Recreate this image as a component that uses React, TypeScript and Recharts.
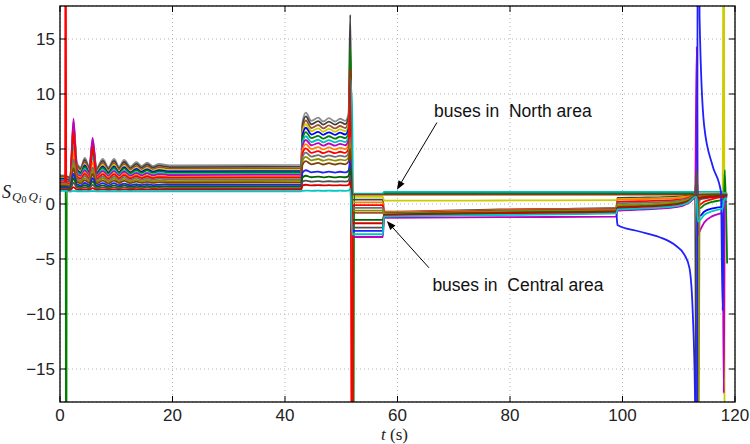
import { LineChart, Line, XAxis, YAxis, CartesianGrid } from 'recharts';

// sample times (s); segments: oscillation, fault, split, recovery, collapse
const T = [
  0, 0.9, 1.0, 1.1, 1.2, 1.8, 2.4, 3.0, 3.7, 4.4, 5.2, 5.8, 6.5, 7.6, 8.6, 9.6, 10.5, 11.4, 12.5, 13.6, 14.5, 15.5, 16.5, 17.6, 19.5, 42.9,
  43.1, 43.7, 44.7, 45.9, 46.8, 47.8, 48.9, 49.8, 50.7, 51.3, 51.6, 51.95,
  52.1, 52.3, 57.4,
  57.6, 78, 98.9,
  99.1, 103, 106.5, 109.5, 111, 111.9, 112.5, 112.9,
  113.2, 113.4, 113.7, 114.5, 116, 117.5, 117.8, 118.0, 118.2, 118.6,
];

const bus01 = [
  2.6, 2.6, 2.6, 2.6, 2.55, 2.45, 7.5, 3.75, 3.35, 4.2, 3.4, 5.9, 3.3, 4.1, 3.35, 4.1, 3.4, 4.0, 3.4, 3.8, 3.45, 3.75, 3.45, 3.65, 3.5, 3.55,
  7.4, 8.3, 7.55, 7.85, 7.5, 7.8, 7.5, 7.75, 7.55, 8.2, 10.5, 0.88,
  0.88, 0.88, 0.88,
  0.9, 0.9, 0.9,
  0.9, 0.9, 0.9, 0.9, 0.9, 0.9, 0.9, 0.9,
  0.9, 0.9, 0.9, 0.9, 0.92, 0.95, 0.95, 0.9, 0.9, 0.9,
];
const bus02 = [
  2.52, 2.52, 2.52, 2.52, 2.48, 2.37, 7.11, 3.59, 3.21, 4.01, 3.26, 5.61, 3.16, 3.92, 3.21, 3.92, 3.26, 3.82, 3.26, 3.64, 3.31, 3.59, 3.31, 3.49, 3.35, 3.4,
  7.11, 7.97, 7.25, 7.54, 7.21, 7.49, 7.21, 7.45, 7.26, 7.87, 17.2, 0.4,
  0.4, 0.4, 0.4,
  -0.7, -0.5, -0.35,
  0.55, 0.58, 0.61, 0.66, 0.72, 0.8, 0.89, 0.95,
  -40, 0.8, 0.75, 0.8, 0.85, 0.9, 0.9, 0.9, 0.9, 0.9,
];
const bus03 = [
  2.43, 2.43, 2.43, 2.43, 2.39, 2.29, 6.71, 3.43, 3.08, 3.82, 3.12, 5.31, 3.03, 3.73, 3.08, 3.73, 3.12, 3.64, 3.12, 3.47, 3.16, 3.43, 3.16, 3.34, 3.21, 3.25,
  6.78, 7.59, 6.91, 7.18, 6.87, 7.14, 6.87, 7.09, 6.91, 7.5, 9.5, -0.8,
  -0.8, -0.8, -0.8,
  -0.95, -0.75, -0.6,
  -0.2, -0.13, -0.05, 0.07, 0.22, 0.42, 0.65, 0.8,
  2.5, 0.3, 0.4, 0.55, 0.7, 0.8, 0.8, 0.8, 0.8, 0.8,
];
const bus04 = [
  2.33, 2.33, 2.33, 2.33, 2.3, 2.21, 7.3, 3.26, 2.94, 3.63, 2.98, 5.0, 2.9, 3.55, 2.94, 3.55, 2.98, 3.46, 2.98, 3.3, 3.02, 3.26, 3.02, 3.18, 3.06, 3.1,
  6.49, 7.25, 6.62, 6.87, 6.57, 6.83, 6.57, 6.79, 6.62, 7.17, 9.0, 0.65,
  0.65, 0.65, 0.65,
  0.3, 0.32, 0.35,
  0.45, 0.48, 0.52, 0.57, 0.64, 0.73, 0.83, 0.9,
  0.9, 0.7, 0.75, 0.8, 0.85, 0.9, 0.9, 40, -40, -40,
];
const bus05 = [
  2.28, 2.28, 2.28, 2.28, 2.24, 2.15, 6.04, 3.15, 2.85, 3.5, 2.88, 4.81, 2.81, 3.42, 2.85, 3.42, 2.88, 3.35, 2.88, 3.19, 2.92, 3.15, 2.92, 3.08, 2.96, 3.0,
  6.2, 6.93, 6.32, 6.56, 6.28, 6.52, 6.28, 6.48, 6.32, 6.85, 9.8, 0.92,
  0.92, 0.92, 0.92,
  1.0, 1.0, 1.0,
  1.0, 1.0, 1.0, 1.0, 1.0, 1.0, 1.0, 1.0,
  1.0, -0.6, -1.1, -0.7, -0.4, -0.25, -0.2, 0.5, 0.6, 0.6,
];
const bus06 = [
  2.22, 2.22, 2.22, -40, 2.18, 2.1, 5.78, 3.05, 2.75, 3.37, 2.79, 4.62, 2.72, 3.3, 2.75, 3.3, 2.79, 3.23, 2.79, 3.08, 2.83, 3.05, 2.83, 2.97, 2.86, 2.9,
  5.86, 6.54, 5.98, 6.2, 5.94, 6.16, 5.94, 6.13, 5.98, 6.46, 14.3, 0.9,
  -40, 0.9, 0.9,
  0.95, 0.95, 0.95,
  0.95, 0.95, 0.95, 0.95, 0.95, 0.95, 0.95, 0.95,
  0.95, -0.2, -0.4, -0.1, 0.2, 0.35, 0.4, 0.5, 3.1, -5.4,
];
const bus07 = [
  2.14, 2.14, 2.14, 2.14, 2.1, 2.01, 5.4, 2.88, 2.62, 3.19, 2.65, 4.32, 2.58, 3.12, 2.62, 3.12, 2.65, 3.05, 2.65, 2.92, 2.68, 2.88, 2.68, 2.82, 2.72, 2.75,
  5.53, 6.16, 5.63, 5.84, 5.6, 5.81, 5.6, 5.77, 5.63, 6.09, 11.5, 8.0,
  0.95, 0.95, 0.95,
  1.1, 1.1, 1.1,
  1.1, 1.1, 1.1, 1.1, 1.1, 1.1, 1.1, 1.1,
  1.1, 1.1, 1.1, 1.1, 1.1, 1.1, 1.1, 1.0, 1.0, 1.0,
];
const bus08 = [
  2.08, 2.08, 2.08, 2.08, 2.04, 1.96, 7.75, 2.78, 2.53, 3.06, 2.56, 6.0, 2.49, 2.99, 2.53, 2.99, 2.56, 2.93, 2.56, 2.81, 2.59, 2.78, 2.59, 2.71, 2.62, 2.65,
  5.24, 5.82, 5.34, 5.53, 5.3, 5.5, 5.3, 5.47, 5.34, 5.76, 7.5, -3.0,
  -3.0, -3.0, -3.0,
  -1.25, -1.2, -1.15,
  -0.6, -0.52, -0.42, -0.28, -0.1, 0.14, 0.42, 0.6,
  14.3, -2.8, -2.5, -1.7, -1.1, -0.85, -0.8, -17.2, 0.2, 0.2,
];
const bus09 = [
  1.98, 1.98, 1.98, 1.98, 1.95, 1.88, 4.71, 2.61, 2.39, 2.86, 2.42, 3.82, 2.36, 2.81, 2.39, 2.81, 2.42, 2.75, 2.42, 2.64, 2.44, 2.61, 2.44, 2.56, 2.47, 2.5,
  4.9, 5.44, 4.99, 5.17, 4.96, 5.14, 4.96, 5.11, 4.99, 5.38, 7.0, 0.15,
  0.15, 0.15, 0.15,
  -0.75, -0.55, -0.4,
  0.4, 0.44, 0.48, 0.54, 0.61, 0.71, 0.83, 0.9,
  0.9, 0.8, 0.85, 0.88, 0.9, 0.92, 0.92, 0.9, 0.9, 0.9,
];
const bus10 = [
  1.93, 1.93, 40, 1.93, 1.9, 1.83, 6.6, 2.5, 2.3, 2.74, 2.32, 5.2, 2.27, 2.69, 2.3, 2.69, 2.32, 2.63, 2.32, 2.53, 2.35, 2.5, 2.35, 2.45, 2.37, 2.4,
  4.57, 5.05, 4.65, 4.81, 4.62, 4.78, 4.62, 4.75, 4.65, 5.0, 12.2, -40,
  -0.1, -0.1, -0.1,
  -0.8, -0.6, -0.45,
  0.2, 0.25, 0.3, 0.38, 0.47, 0.6, 0.75, 0.85,
  2.8, -0.2, -0.1, 0.2, 0.45, 0.6, 0.6, 0.7, 0.8, 0.8,
];
const bus11 = [
  1.84, 1.84, 1.84, 1.84, 1.81, 1.74, 4.07, 2.34, 2.16, 2.55, 2.18, 3.33, 2.14, 2.5, 2.16, 2.5, 2.18, 2.46, 2.18, 2.37, 2.2, 2.34, 2.2, 2.3, 2.23, 2.25,
  4.23, 4.67, 4.3, 4.45, 4.28, 4.42, 4.28, 4.4, 4.3, 4.62, 6.0, -0.35,
  -0.35, -0.35, -0.35,
  -0.85, -0.65, -0.5,
  0.05, 0.11, 0.17, 0.27, 0.39, 0.55, 0.73, 0.85,
  0.85, 0.8, 0.82, 0.85, 0.88, 0.9, 0.9, 0.85, 0.85, 0.85,
];
const bus12 = [
  1.76, 1.76, 1.76, 1.76, 1.73, 1.66, 3.68, 2.18, 2.02, 2.36, 2.04, 3.04, 2.0, 2.32, 2.02, 2.32, 2.04, 2.28, 2.04, 2.2, 2.06, 2.18, 2.06, 2.14, 2.08, 2.1,
  3.89, 4.28, 3.96, 4.09, 3.94, 4.06, 3.94, 4.04, 3.96, 4.24, 5.5, -0.6,
  -0.6, -0.6, -0.6,
  -0.9, -0.7, -0.55,
  -0.1, -0.04, 0.04, 0.14, 0.28, 0.46, 0.67, 0.8,
  0.8, -40, 0.7, 0.75, 0.8, 0.85, 0.85, 0.85, 0.85, 0.85,
];
const bus13 = [
  1.66, 1.66, 1.66, 1.66, 1.64, 1.59, 3.25, 2.02, 1.88, 2.16, 1.9, 2.73, 1.87, 2.13, 1.88, 2.13, 1.9, 2.1, 1.9, 2.03, 1.92, 2.02, 1.92, 1.98, 1.93, 1.95,
  3.56, 3.9, 3.61, 3.73, 3.59, 3.71, 3.59, 3.69, 3.61, 3.86, 5.0, 0.85,
  0.85, 0.85, 0.85,
  0.85, 0.85, 0.85,
  0.85, 0.85, 0.85, 0.85, 0.85, 0.85, 0.85, 0.85,
  0.85, 0.85, 0.85, 0.85, 0.85, 0.85, 0.85, 0.85, 0.85, 0.85,
];
const bus14 = [
  1.55, 1.55, 1.55, 1.55, 1.53, 1.47, 2.74, 1.8, 1.7, 1.91, 1.71, 2.34, 1.69, 1.89, 1.7, 1.89, 1.71, 1.86, 1.71, 1.81, 1.72, 1.8, 1.72, 1.77, 1.74, 1.75,
  2.84, 3.07, 2.87, 2.95, 2.86, 2.94, 2.86, 2.93, 2.87, 3.04, 4.0, -2.45,
  -2.45, -2.45, -2.45,
  -1.1, -0.95, -0.8,
  -1.9, -2.5, -3.0, -3.8, -4.6, -5.8, -10, -18,
  -40, 40, 17, 7.2, 3.5, 1.1, -9.7, 0.5, 0.8, 0.8,
];
const bus15 = [
  1.47, 1.47, 1.47, 1.47, 1.45, 1.39, 2.35, 1.64, 1.56, 1.72, 1.57, 2.05, 1.55, 1.7, 1.56, 1.7, 1.57, 1.69, 1.57, 1.65, 1.58, 1.64, 1.58, 1.62, 1.59, 1.6,
  2.4, 2.57, 2.43, 2.49, 2.42, 2.48, 2.42, 2.47, 2.43, 2.55, 3.3, -1.45,
  -1.45, -1.45, -1.45,
  -1.0, -0.8, -0.65,
  -0.3, -0.23, -0.14, -0.02, 0.14, 0.35, 0.59, 0.75,
  0.75, 0.5, 0.55, 0.65, 0.7, 0.75, 0.75, 0.75, 0.75, 0.75,
];
const bus16 = [
  1.38, 1.38, 1.38, 1.38, 1.36, 1.31, 1.94, 1.48, 1.43, 1.53, 1.43, 1.74, 1.42, 1.52, 1.43, 1.52, 1.43, 1.51, 1.43, 1.48, 1.44, 1.48, 1.44, 1.46, 1.44, 1.45,
  2.02, 2.13, 2.04, 2.08, 2.03, 2.07, 2.03, 2.06, 2.04, 2.12, 2.6, -2.15,
  -2.15, -2.15, -2.15,
  -1.1, -0.9, -0.75,
  -0.45, -0.37, -0.28, -0.14, 0.03, 0.26, 0.53, 0.7,
  3.1, 0.3, 0.4, 0.5, 0.6, 0.7, 0.7, 0.7, 0.7, 0.7,
];
const bus17 = [
  1.28, 1.28, 1.28, 1.28, 1.27, 1.23, 1.54, 1.31, 1.29, 1.34, 1.29, 1.44, 1.29, 1.33, 1.29, 1.33, 1.29, 1.33, 1.29, 1.32, 1.3, 1.31, 1.3, 1.31, 1.3, 1.3,
  1.68, 1.75, 1.69, 1.72, 1.69, 1.71, 1.69, 1.71, 1.69, 1.74, 2.1, -1.75,
  -1.75, -1.75, -1.75,
  -1.05, -0.85, -0.7,
  -0.35, -0.28, -0.19, -0.07, 0.09, 0.3, 0.54, 0.7,
  0.7, 0.5, 0.55, 0.6, 0.65, 0.7, 0.7, 0.7, 0.7, 0.7,
];
const bus18 = [
  1.2, 1.2, 1.2, 1.2, 1.18, 1.12, 1.2, 1.16, 1.15, 1.16, 1.15, 1.18, 1.15, 1.16, 1.15, 1.16, 1.15, 1.16, 1.15, 1.15, 1.15, 1.15, 1.15, 1.15, 1.15, 1.15,
  1.2, 1.22, 1.2, 1.21, 1.2, 1.21, 1.2, 1.21, 1.2, 1.21, 1.4, -2.75,
  -2.75, -2.75, -2.75,
  -1.15, -1.0, -0.85,
  -0.5, -0.42, -0.33, -0.19, -0.02, 0.21, 0.48, 0.65,
  0.65, -1.6, -1.5, -1.0, -0.65, -0.45, -0.4, 0.3, 0.5, 0.5,
];

const SERIES = [
  { key: 'bus01', color: '#8c8c8c', values: bus01 },
  { key: 'bus02', color: '#404040', values: bus02 },
  { key: 'bus03', color: '#a0522d', values: bus03 },
  { key: 'bus04', color: '#cccc00', values: bus04 },
  { key: 'bus05', color: '#0000ff', values: bus05 },
  { key: 'bus06', color: '#008000', values: bus06 },
  { key: 'bus07', color: '#00bfbf', values: bus07 },
  { key: 'bus08', color: '#bf00bf', values: bus08 },
  { key: 'bus09', color: '#ff8000', values: bus09 },
  { key: 'bus10', color: '#ff0000', values: bus10 },
  { key: 'bus11', color: '#707070', values: bus11 },
  { key: 'bus12', color: '#8c8c00', values: bus12 },
  { key: 'bus13', color: '#804000', values: bus13 },
  { key: 'bus14', color: '#2020ff', values: bus14 },
  { key: 'bus15', color: '#006400', values: bus15 },
  { key: 'bus16', color: '#505050', values: bus16 },
  { key: 'bus17', color: '#d40000', values: bus17 },
  { key: 'bus18', color: '#00c8c8', values: bus18 },
];

const X_TICKS = [0, 20, 40, 60, 80, 100, 120];
const Y_TICKS = [-15, -10, -5, 0, 5, 10, 15];
const X_DOMAIN = [0, 120];
const Y_DOMAIN = [-18, 18];

const W = 750;
const H = 444;
const PLOT = { left: 60, top: 6, right: 735, bottom: 402 };

const SANS = '"Liberation Sans", Arial, Helvetica, sans-serif';
const SERIF = '"Liberation Serif", "Times New Roman", serif';

const chartData = T.map((t, i) => {
  const row: Record<string, number> = { t };
  SERIES.forEach((s) => {
    row[s.key] = s.values[i];
  });
  return row;
});

// same linear mapping the axes use, for the annotation overlay
const xPx = (t: number) => PLOT.left + ((t - X_DOMAIN[0]) / (X_DOMAIN[1] - X_DOMAIN[0])) * (PLOT.right - PLOT.left);
const yPx = (v: number) => PLOT.top + ((Y_DOMAIN[1] - v) / (Y_DOMAIN[1] - Y_DOMAIN[0])) * (PLOT.bottom - PLOT.top);

const fmt = (v: number) => (v < 0 ? '\u2212' + Math.abs(v) : String(v));

const XTick = ({ x, payload }: any) => (
  <g>
    <line x1={x} x2={x} y1={PLOT.bottom} y2={PLOT.bottom - 6} stroke="#000" />
    <line x1={x} x2={x} y1={PLOT.top} y2={PLOT.top + 6} stroke="#000" />
    <text x={x} y={421} textAnchor="middle" fontSize={17} fill="#222" fontFamily={SANS}>
      {fmt(payload.value)}
    </text>
  </g>
);

const YTick = ({ y, payload }: any) => (
  <g>
    <line x1={PLOT.left} x2={PLOT.left + 6} y1={y} y2={y} stroke="#000" />
    <line x1={PLOT.right - 6} x2={PLOT.right} y1={y} y2={y} stroke="#000" />
    <text x={55} y={y + 6} textAnchor="end" fontSize={17} fill="#222" fontFamily={SANS}>
      {fmt(payload.value)}
    </text>
  </g>
);

// annotation arrows, in data coordinates
const NOTES = [
  { label: 'buses in\u00a0 North area', textAt: [66.5, 7.9], tail: [67.0, 7.4], head: [59.9, 1.3] },
  { label: 'buses in\u00a0 Central area', textAt: [66.2, -7.9], tail: [65.6, -5.8], head: [58.1, -1.55] },
];

function Arrow({ tail, head }: { tail: number[]; head: number[] }) {
  const x1 = xPx(tail[0]);
  const y1 = yPx(tail[1]);
  const x2 = xPx(head[0]);
  const y2 = yPx(head[1]);
  const ang = Math.atan2(y2 - y1, x2 - x1);
  const len = 9;
  const half = 3.5;
  const bx = x2 - len * Math.cos(ang);
  const by = y2 - len * Math.sin(ang);
  const px = -Math.sin(ang) * half;
  const py = Math.cos(ang) * half;
  return (
    <g>
      <line x1={x1} y1={y1} x2={bx} y2={by} stroke="#000" strokeWidth={1} />
      <polygon points={`${x2},${y2} ${bx + px},${by + py} ${bx - px},${by - py}`} fill="#000" />
    </g>
  );
}

export default function App() {
  return (
    <div style={{ position: 'relative', width: W, height: H, background: '#fff' }}>
      <style>{'body{margin:0}'}</style>
      <LineChart width={W} height={H} data={chartData} margin={{ top: PLOT.top, right: W - PLOT.right, bottom: 0, left: 0 }}>
        <CartesianGrid stroke="#b4b4b4" strokeDasharray="1 3" />
        <XAxis
          dataKey="t"
          type="number"
          domain={X_DOMAIN}
          ticks={X_TICKS}
          allowDataOverflow
          axisLine={false}
          tickLine={false}
          tick={XTick}
          height={H - PLOT.bottom}
          interval={0}
        />
        <YAxis
          type="number"
          domain={Y_DOMAIN}
          ticks={Y_TICKS}
          allowDataOverflow
          axisLine={false}
          tickLine={false}
          tick={YTick}
          width={PLOT.left}
          interval={0}
        />
        {SERIES.map((s) => (
          <Line
            key={s.key}
            dataKey={s.key}
            type="monotone"
            stroke={s.color}
            strokeWidth={1.8}
            dot={false}
            activeDot={false}
            isAnimationActive={false}
          />
        ))}
      </LineChart>
      <svg width={W} height={H} style={{ position: 'absolute', left: 0, top: 0, pointerEvents: 'none' }}>
        <rect
          x={PLOT.left}
          y={PLOT.top}
          width={PLOT.right - PLOT.left}
          height={PLOT.bottom - PLOT.top}
          fill="none"
          stroke="#000"
          strokeWidth={1.3}
        />
        {NOTES.map((n) => (
          <g key={n.label}>
            <Arrow tail={n.tail} head={n.head} />
            <text x={xPx(n.textAt[0])} y={yPx(n.textAt[1])} fontSize={17.5} fill="#111" fontFamily={SANS}>
              {n.label}
            </text>
          </g>
        ))}
        <text x={381} y={440} fontSize={17} fontFamily={SERIF} fill="#222">
          <tspan fontStyle="italic">t</tspan>
          <tspan> (s)</tspan>
        </text>
        <text x={2} y={198} fontFamily={SERIF} fill="#222">
          <tspan fontSize={18} fontStyle="italic">S</tspan>
          <tspan fontSize={13} fontStyle="italic" dx={1} dy={3}>Q</tspan>
          <tspan fontSize={10} dy={2}>0</tspan>
          <tspan fontSize={13} fontStyle="italic" dx={2} dy={-2}>Q</tspan>
          <tspan fontSize={10} fontStyle="italic" dx={1} dy={2}>i</tspan>
        </text>
      </svg>
    </div>
  );
}
